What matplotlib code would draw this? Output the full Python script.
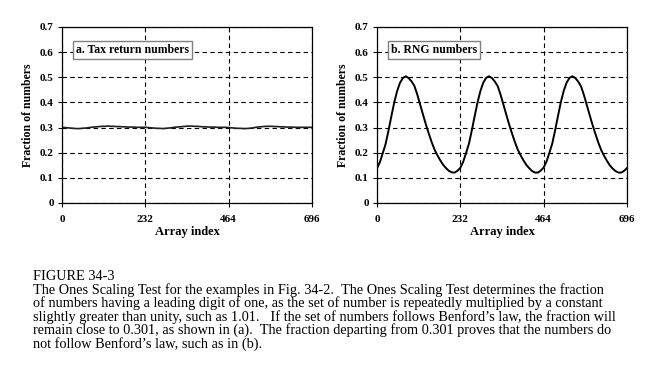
import matplotlib.pyplot as plt

plt.rcParams['font.family'] = ['Liberation Serif', 'DejaVu Serif']

# array index samples (every 8 points)
index = list(range(0, 697, 8))

tax = [0.301, 0.300, 0.299, 0.298, 0.297, 0.296, 0.296, 0.297, 0.298, 0.299,
       0.301, 0.302, 0.303, 0.304, 0.305, 0.305, 0.306, 0.305, 0.305, 0.304,
       0.304, 0.303, 0.303, 0.302, 0.302, 0.302, 0.301, 0.301, 0.301,
       0.301, 0.300, 0.299, 0.298, 0.297, 0.297, 0.296, 0.297, 0.298, 0.299,
       0.301, 0.302, 0.303, 0.304, 0.305, 0.306, 0.306, 0.305, 0.305, 0.304,
       0.303, 0.303, 0.302, 0.302, 0.302, 0.301, 0.301, 0.301, 0.301,
       0.300, 0.299, 0.298, 0.297, 0.297, 0.296, 0.296, 0.297, 0.298, 0.300,
       0.302, 0.303, 0.304, 0.305, 0.305, 0.305, 0.304, 0.304, 0.303, 0.303,
       0.302, 0.302, 0.302, 0.301, 0.301, 0.301, 0.301, 0.301, 0.301, 0.301]

rng = [0.138, 0.162, 0.198, 0.235, 0.288, 0.345, 0.400, 0.445, 0.478, 0.497,
       0.504, 0.497, 0.484, 0.466, 0.432, 0.392, 0.352, 0.313, 0.277, 0.243,
       0.213, 0.190, 0.170, 0.152, 0.139, 0.128, 0.122, 0.121, 0.128,
       0.140, 0.164, 0.199, 0.236, 0.289, 0.346, 0.401, 0.446, 0.479, 0.498,
       0.504, 0.497, 0.483, 0.465, 0.431, 0.391, 0.351, 0.312, 0.276, 0.242,
       0.212, 0.189, 0.169, 0.151, 0.138, 0.127, 0.121, 0.121, 0.129,
       0.141, 0.165, 0.200, 0.237, 0.290, 0.347, 0.402, 0.447, 0.479, 0.498,
       0.504, 0.497, 0.483, 0.464, 0.430, 0.390, 0.350, 0.311, 0.275, 0.241,
       0.211, 0.188, 0.168, 0.150, 0.137, 0.127, 0.121, 0.121, 0.128, 0.139]

xticks = [0, 232, 464, 696]
yticks = [0, 0.1, 0.2, 0.3, 0.4, 0.5, 0.6, 0.7]
ytick_labels = ["0", "0.1", "0.2", "0.3", "0.4", "0.5", "0.6", "0.7"]

caption = ("FIGURE 34-3\n"
           "The Ones Scaling Test for the examples in Fig. 34-2.  The Ones Scaling Test determines the fraction\n"
           "of numbers having a leading digit of one, as the set of number is repeatedly multiplied by a constant\n"
           "slightly greater than unity, such as 1.01.   If the set of numbers follows Benford\u2019s law, the fraction will\n"
           "remain close to 0.301, as shown in (a).  The fraction departing from 0.301 proves that the numbers do\n"
           "not follow Benford\u2019s law, such as in (b).")

fig = plt.figure(figsize=(6.55, 3.71), dpi=100)
ax1 = fig.add_axes([62/655, 1-203/371, 250/655, 176/371])
ax2 = fig.add_axes([377/655, 1-203/371, 250/655, 176/371])

ax1.plot(index, tax, color="#202020", lw=1.2)
ax2.plot(index, rng, color="black", lw=1.4)

for ax, lab in [(ax1, "a. Tax return numbers"), (ax2, "b. RNG numbers")]:
    ax.set_xlim(0, 696)
    ax.set_ylim(0, 0.7)
    ax.set_xticks(xticks)
    ax.set_yticks(yticks)
    ax.set_yticklabels(ytick_labels)
    ax.tick_params(direction="out", length=3, width=0.8, labelsize=8)
    ax.tick_params(axis="x", pad=6)
    ax.tick_params(axis="y", pad=3)
    for t in ax.get_xticklabels() + ax.get_yticklabels():
        t.set_fontweight("bold")
    ax.grid(True, color="black", linestyle=(0, (4, 3)), linewidth=0.8)
    ax.set_axisbelow(True)
    for s in ax.spines.values():
        s.set_linewidth(0.9)
    ax.set_xlabel("Array index", fontsize=9, fontweight="bold", labelpad=1)
    ax.set_ylabel("Fraction of numbers", fontsize=8.5, fontweight="bold", labelpad=4)
    ax.text(0.055, 0.87, lab, transform=ax.transAxes, fontsize=8.5, fontweight="bold",
            va="center", ha="left", zorder=5,
            bbox=dict(boxstyle="square,pad=0.25", facecolor="white", edgecolor="#808080", lw=1))

fig.text(33/655, 1-270/371, caption, fontsize=10.3, va="top", ha="left", linespacing=0.98)

fig.savefig("out.png", dpi=100, facecolor="white")
